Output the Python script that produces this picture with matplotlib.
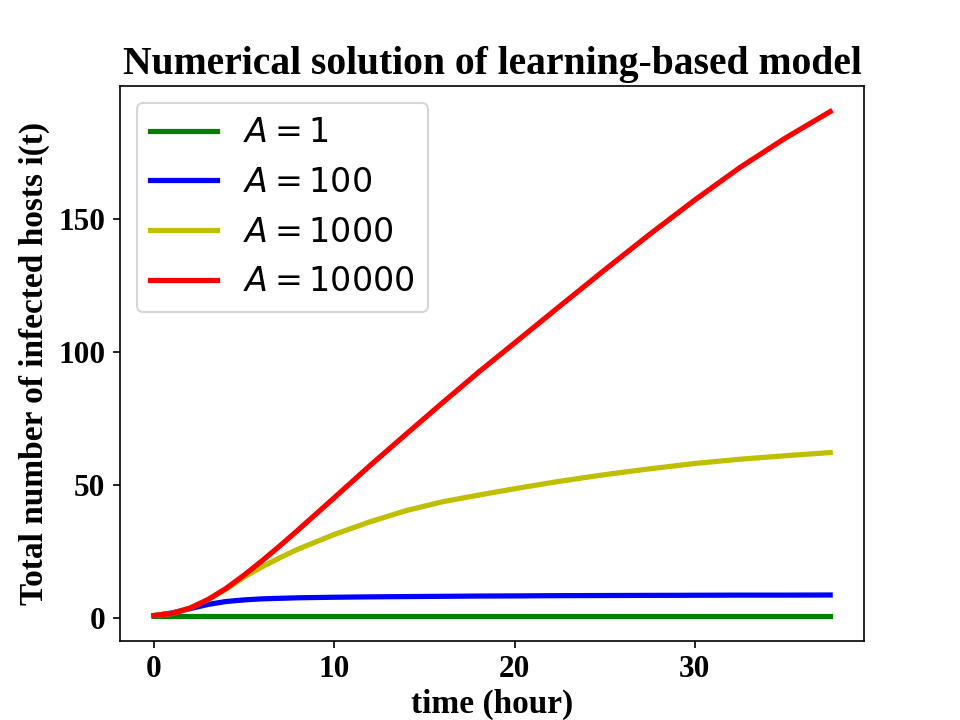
'''
Numerical solution of the learning-based model, replotted from values
read off the original figure.
'''

# Import
import numpy as np
import matplotlib
matplotlib.use('Agg')
import matplotlib.pyplot as plt

# Time points (hour)
t = [0, 1, 2, 3, 4, 5, 6, 7, 8, 10, 12, 14, 16, 18, 20,
     22.5, 25, 27.5, 30, 32.5, 35, 37.5]

# Total number of infected hosts for each A
i_A1 = [1.0] * len(t)
i_A100 = [1.0, 2.0, 3.6, 5.2, 6.3, 6.9, 7.3, 7.5, 7.7, 7.9, 8.05, 8.15,
          8.25, 8.35, 8.4, 8.5, 8.55, 8.6, 8.65, 8.7, 8.7, 8.75]
i_A1000 = [1.0, 1.8, 3.8, 7.0, 10.9, 15.5, 19.3, 22.8, 26.0, 31.5, 36.3,
           40.5, 43.8, 46.3, 48.7, 51.5, 54.0, 56.2, 58.2, 59.8, 61.1, 62.3]
i_A10000 = [1.0, 1.8, 3.8, 7.0, 11.2, 16.2, 21.6, 27.3, 33.2, 45.3, 57.5,
            69.3, 81.0, 92.5, 103.5, 117.3, 131.0, 144.4, 157.3, 169.5,
            180.5, 190.5]

labels = [r'$A=1$', r'$A=100$', r'$A=1000$', r'$A=10000$']
colors = ['g', 'b', 'y', 'r']

serif = {'family': 'Liberation Serif', 'weight': 'bold'}

fig, ax = plt.subplots(figsize=(6.4, 4.8), dpi=150)
for y, lab, c in zip([i_A1, i_A100, i_A1000, i_A10000], labels, colors):
    ax.plot(t, y, color=c, lw=2.5, label=lab)

ax.set_title('Numerical solution of learning-based model', fontdict=dict(serif, size=19))
ax.set_xlabel('time (hour)', fontdict=dict(serif, size=16), labelpad=2)
ax.set_ylabel('Total number of infected hosts i(t)', fontdict=dict(serif, size=16))
ax.set_xticks([0, 10, 20, 30])
ax.set_yticks([0, 50, 100, 150])
for lbl in ax.get_xticklabels() + ax.get_yticklabels():
    lbl.set_fontfamily('Liberation Serif')
    lbl.set_fontweight('bold')
    lbl.set_fontsize(15)

ax.legend(loc='upper left', fontsize=16)

fig.savefig('out.png', dpi=150)
